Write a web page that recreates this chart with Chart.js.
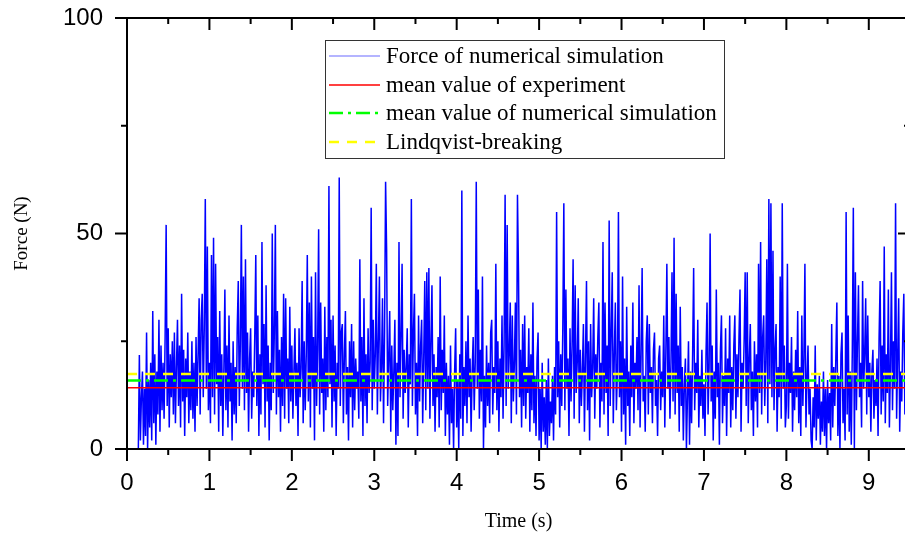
<!DOCTYPE html>
<html>
<head>
<meta charset="utf-8">
<script src="https://cdn.jsdelivr.net/npm/chart.js@4.4.1/dist/chart.umd.min.js"></script>
<style>
  html, body { margin: 0; padding: 0; overflow: hidden; background: #fff; }
  #wrap { width: 916px; height: 544px; }
</style>
</head>
<body>
<div id="wrap"><canvas id="chart" width="916" height="544"></canvas></div>
<script>
// ── Force signal (one value every 12.5 ms) ──────────────────────────────────
const sampleStep = 0.0125;

const force0 = [
  0, 0, 0, 0, 0, 0, 0, 0, 0, 0,
  0, 0, 21.8, 2, 12, 18, 1, 14, 3, 27,
  0, 16, 5, 20, 2, 32, 6, 22, 1, 18,
  8, 30, 4, 24, 9, 20, 7, 26, 52, 10,
  28, 5, 22, 12, 25, 8, 27, 6, 19, 30,
  10, 24, 5, 36, 11, 23, 3, 21, 12, 27,
  6, 18, 9, 25, 7, 20, 4, 26, 10, 22,
  35, 8, 30, 36, 12, 28, 58, 14, 47, 9,
];
const force1 = [
  20, 6, 45, 12, 49, 8, 43, 15, 26, 4,
  32, 10, 22, 3, 18, 37, 9, 24, 5, 31,
  11, 20, 2, 25, 8, 19, 6, 28, 39, 10,
  24, 52, 14, 40, 9, 44, 13, 27, 4, 21,
  28, 7, 18, 12, 26, 45, 10, 31, 3, 22,
  8, 48, 15, 29, 5, 38, 11, 24, 2, 20,
  9, 50, 13, 27, 52, 8, 32, 12, 23, 4,
  26, 10, 36, 7, 35, 14, 21, 6, 33, 11,
];
const force2 = [
  24, 7, 18, 28, 10, 20, 3, 28, 12, 19,
  39, 6, 25, 9, 22, 45, 11, 34, 5, 40,
  14, 26, 2, 41, 10, 23, 51, 8, 34, 13,
  21, 4, 33, 9, 26, 12, 61, 15, 30, 5,
  31, 11, 24, 3, 20, 14, 63, 10, 27, 29,
  6, 22, 32, 8, 19, 2, 25, 12, 29, 5,
  25, 9, 21, 14, 18, 7, 44, 11, 26, 3,
  35, 10, 22, 6, 28, 13, 20, 56, 9, 30,
];
const force3 = [
  14, 22, 43, 8, 25, 40, 11, 19, 35, 6,
  27, 62, 46, 10, 21, 32, 4, 24, 9, 18,
  30, 1, 20, 3, 48, 12, 26, 43, 7, 23,
  13, 19, 28, 5, 22, 15, 58, 10, 27, 36,
  8, 20, 3, 31, 11, 24, 30, 6, 21, 39,
  9, 41, 14, 42, 7, 25, 38, 10, 22, 4,
  19, 12, 26, 5, 40, 9, 23, 13, 31, 3,
  20, 8, 17, 1, 24, 6, 14, 0, 18, 28,
];
const force4 = [
  5, 16, 0, 22, 7, 60, 3, 19, 10, 25,
  6, 31, 12, 21, 4, 18, 26, 9, 20, 62,
  14, 37, 7, 23, 11, 40, 0, 17, 5, 24,
  10, 20, 6, 27, 30, 8, 19, 13, 43, 9,
  25, 4, 21, 12, 31, 7, 24, 59, 10, 52,
  14, 22, 34, 6, 31, 11, 20, 34, 8, 59,
  41, 12, 23, 5, 29, 10, 31, 7, 19, 13,
  28, 4, 22, 9, 34, 6, 17, 3, 21, 27,
];
const force5 = [
  2, 14, 0, 20, 4, 12, 1, 16, 0, 21,
  3, 11, 6, 17, 2, 19, 8, 55, 12, 25,
  5, 22, 10, 28, 57, 9, 37, 14, 21, 3,
  28, 11, 24, 44, 7, 38, 13, 20, 35, 6,
  23, 10, 18, 29, 4, 21, 39, 9, 25, 2,
  29, 12, 19, 35, 7, 22, 14, 26, 34, 5,
  20, 11, 48, 8, 34, 13, 24, 3, 53, 10,
  27, 41, 6, 22, 34, 9, 18, 55, 12, 25,
];
const force6 = [
  4, 40, 8, 21, 1, 33, 10, 18, 3, 24,
  12, 34, 6, 20, 14, 26, 9, 38, 5, 22,
  42, 11, 17, 4, 25, 31, 8, 29, 13, 19,
  6, 23, 27, 10, 16, 3, 21, 24, 9, 18,
  12, 31, 5, 22, 43, 14, 26, 7, 20, 41,
  11, 49, 8, 36, 13, 24, 4, 33, 10, 19,
  2, 15, 21, 0, 12, 25, 1, 18, 6, 22,
  42, 9, 20, 13, 30, 5, 17, 10, 23, 7,
];
const force7 = [
  15, 3, 22, 34, 8, 19, 50, 11, 24, 2,
  18, 7, 37, 12, 20, 1, 23, 31, 6, 17,
  10, 28, 3, 21, 13, 31, 5, 19, 9, 24,
  31, 7, 22, 12, 26, 37, 4, 20, 14, 25,
  41, 10, 41, 6, 21, 29, 9, 18, 3, 25,
  11, 22, 5, 43, 13, 48, 8, 26, 31, 10,
  20, 44, 6, 58, 15, 57, 12, 46, 9, 23,
  29, 4, 19, 12, 40, 7, 57, 14, 24, 5,
];
const force8 = [
  10, 43, 7, 20, 13, 26, 4, 18, 9, 23,
  12, 32, 6, 19, 3, 31, 10, 21, 43, 5,
  16, 24, 8, 14, 2, 0, 12, 5, 24, 2,
  15, 7, 17, 1, 11, 4, 18, 3, 14, 0,
  16, 6, 13, 2, 29, 5, 19, 10, 21, 34,
  3, 17, 0, 22, 27, 6, 14, 2, 55, 8,
  31, 4, 18, 1, 23, 56, 0, 41, 9, 25,
  38, 12, 20, 5, 39, 14, 22, 35, 8, 31,
];
const force9 = [
  12, 20, 4, 18, 23, 7, 16, 10, 21, 3,
  26, 39, 8, 24, 11, 47, 6, 22, 13, 37,
  5, 19, 41, 9, 25, 14, 57, 7, 21, 35,
  4, 18, 11, 27, 36, 8, 20, 13, 30, 6,
];

// reference levels (N)
const meanExperiment = 14.2;
const meanSimulation = 15.9;
const lindqvistBreaking = 17.4;

// axes
const xRange = [0, 9.5];
const yRange = [0, 100];
const xMajorTicks = [0, 1, 2, 3, 4, 5, 6, 7, 8, 9];
const xMinorTicks = [0.5, 1.5, 2.5, 3.5, 4.5, 5.5, 6.5, 7.5, 8.5, 9.5];
const yMajorTicks = [0, 50, 100];
const yMinorTicks = [25, 75];

const seriesLabels = [
  "Force of numerical simulation",
  "mean value of experiment",
  "mean value of numerical simulation",
  "Lindqvist-breaking",
];

// ── build datasets ──────────────────────────────────────────────
const forceAll = [].concat(force0, force1, force2, force3, force4, force5, force6, force7, force8, force9);
const forcePts = forceAll.map((v, i) => ({ x: i * sampleStep, y: v }));
const flat = (v) => [{ x: xRange[0], y: v }, { x: xRange[1], y: v }];

const SANS = "'Liberation Sans', Arial, sans-serif";
const SERIF = "'Liberation Serif', 'Times New Roman', serif";

// no label overflow padding: the plot box is fixed
const noPad = (s) => {
  s.paddingTop = 0; s.paddingBottom = 0; s.paddingLeft = 0; s.paddingRight = 0;
};

// frame + Origin-style ticks (outer on bottom/left, inner on top/right)
const framePlugin = {
  id: "frame",
  afterDatasetsDraw(chart) {
    const { ctx, chartArea: a } = chart;
    const x = chart.scales.x, y = chart.scales.y;
    ctx.save();
    ctx.strokeStyle = "#000";
    ctx.lineWidth = 2;
    ctx.lineCap = "butt";
    ctx.strokeRect(a.left, a.top, a.right - a.left, a.bottom - a.top);
    const seg = (x1, y1, x2, y2) => {
      ctx.beginPath(); ctx.moveTo(x1, y1); ctx.lineTo(x2, y2); ctx.stroke();
    };
    const xt = (v, len) => {
      const p = x.getPixelForValue(v);
      seg(p, a.bottom, p, a.bottom + len);
      seg(p, a.top, p, a.top + len);
    };
    const yt = (v, len) => {
      const p = y.getPixelForValue(v);
      seg(a.left - len, p, a.left, p);
      seg(a.right - len, p, a.right, p);
    };
    xMajorTicks.forEach((v) => xt(v, 12));
    xMinorTicks.forEach((v) => xt(v, 6));
    yMajorTicks.forEach((v) => yt(v, 12));
    yMinorTicks.forEach((v) => yt(v, 6));
    ctx.restore();
  },
  afterDraw(chart) {
    // legend box
    const { ctx } = chart;
    const box = { l: 325, t: 40, r: 724, b: 158 };
    ctx.save();
    ctx.fillStyle = "#fff";
    ctx.fillRect(box.l, box.t, box.r - box.l, box.b - box.t);
    ctx.strokeStyle = "#333";
    ctx.lineWidth = 1;
    ctx.strokeRect(box.l + 0.5, box.t + 0.5, box.r - box.l, box.b - box.t);
    const rows = [56, 85, 113, 142];
    chart.data.datasets.forEach((ds, i) => {
      const ry = rows[i];
      ctx.beginPath();
      ctx.setLineDash(ds.borderDash || []);
      ctx.strokeStyle = ds.legendColor || ds.borderColor;
      ctx.lineWidth = ds.legendWidth || ds.borderWidth;
      ctx.moveTo(329, ry);
      ctx.lineTo(380, ry);
      ctx.stroke();
      ctx.setLineDash([]);
      ctx.fillStyle = "#000";
      ctx.font = "23px " + SERIF;
      ctx.textBaseline = "middle";
      ctx.textAlign = "left";
      ctx.fillText(ds.label, 386, ry + 1);
    });
    ctx.restore();
  },
};

new Chart(document.getElementById("chart"), {
  type: "line",
  data: {
    datasets: [
      {
        label: seriesLabels[0],
        data: forcePts,
        borderColor: "#0000ff",
        legendColor: "#6a6aff",
        legendWidth: 1.2,
        borderWidth: 1.5,
        pointRadius: 0,
        tension: 0,
        order: 4,
      },
      {
        label: seriesLabels[1],
        data: flat(meanExperiment),
        borderColor: "#ff0000",
        borderWidth: 1.6,
        pointRadius: 0,
        order: 3,
      },
      {
        label: seriesLabels[2],
        data: flat(meanSimulation),
        borderColor: "#00ff00",
        borderWidth: 2.5,
        borderDash: [14, 5, 3, 5],
        pointRadius: 0,
        order: 2,
      },
      {
        label: seriesLabels[3],
        data: flat(lindqvistBreaking),
        borderColor: "#ffff00",
        borderWidth: 2.5,
        borderDash: [10, 8],
        pointRadius: 0,
        order: 1,
      },
    ],
  },
  options: {
    responsive: false,
    animation: false,
    devicePixelRatio: 1,
    parsing: false,
    layout: { autoPadding: false, padding: { top: 18, right: 6, left: 0, bottom: 0 } },
    plugins: { legend: { display: false }, tooltip: { enabled: false } },
    scales: {
      x: {
        type: "linear",
        min: xRange[0],
        max: xRange[1],
        border: { display: false },
        grid: { display: false },
        afterBuildTicks: (s) => { s.ticks = xMajorTicks.map((v) => ({ value: v })); },
        afterFit: (s) => { s.height = 95; noPad(s); },
        ticks: { font: { family: SANS, size: 24 }, color: "#000", padding: 12, maxRotation: 0, autoSkip: false },
        title: { display: true, text: "Time (s)", color: "#000", font: { family: SERIF, size: 20 }, padding: { top: 0, bottom: 10 } },
      },
      y: {
        type: "linear",
        min: yRange[0],
        max: yRange[1],
        border: { display: false },
        grid: { display: false },
        afterBuildTicks: (s) => { s.ticks = yMajorTicks.map((v) => ({ value: v })); },
        afterFit: (s) => { s.width = 127; noPad(s); },
        ticks: { font: { family: SANS, size: 24 }, color: "#000", padding: 16 },
        title: { display: true, text: "Force (N)", color: "#000", font: { family: SERIF, size: 19 }, padding: { top: 11, bottom: 0 } },
      },
    },
  },
  plugins: [framePlugin],
});
</script>
</body>
</html>
